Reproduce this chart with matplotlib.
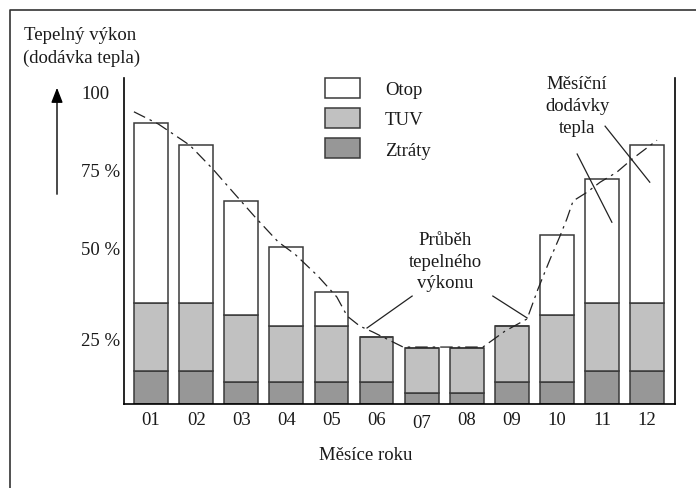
import matplotlib
matplotlib.use("Agg")
import matplotlib.pyplot as plt
from matplotlib.lines import Line2D
import numpy as np

# ---- data ----
months = ["01", "02", "03", "04", "05", "06", "07", "08", "09", "10", "11", "12"]
ztraty = [10.6, 10.6, 6.9, 6.9, 6.9, 6.9, 3.4, 3.4, 6.9, 6.9, 10.6, 10.6]
tuv = [21.6, 21.6, 21.6, 17.9, 17.9, 14.6, 14.5, 14.5, 18.0, 21.6, 21.6, 21.6]
otop = [57.6, 50.5, 36.3, 25.5, 11.1, 0.0, 0.0, 0.0, 0.0, 25.4, 39.7, 50.5]

# power curve (Průběh tepelného výkonu), x in month-index units, y in %
curve_x = [-0.38, 0.16, 0.86, 1.37, 1.82, 2.31, 2.82, 3.19, 3.70, 4.12, 4.35, 4.63,
           4.92, 5.59, 7.36, 7.85, 8.34, 8.58, 8.85, 9.07, 9.22, 9.36, 9.67, 9.96,
           10.33, 10.67, 11.22]
curve_y = [93.4, 89.5, 82.7, 75.1, 67.7, 59.7, 51.8, 47.9, 40.9, 34.2, 28.1, 24.9,
           23.0, 18.2, 18.2, 23.3, 27.2, 36.7, 46.3, 53.7, 59.1, 64.9, 67.7, 70.9,
           74.1, 78.3, 84.3]

ytick_vals = [100, 75, 50, 21]
ytick_labels = ["100", "75 %", "50 %", "25 %"]
legend_labels = ["Otop", "TUV", "Ztráty"]

FONT = "Liberation Serif"
FS = 13.5
TXT = "#1a1a1a"
plt.rcParams["font.family"] = [FONT, "DejaVu Serif"]

W, H = 696, 489
fig = plt.figure(figsize=(W / 100, H / 100), dpi=100)
ax = fig.add_axes([124 / W, (H - 405) / H, (675 - 124) / W, (405 - 79) / H])

x = np.arange(len(months))
edge = "#3a3a3a"
lw = 1.1
b1 = ax.bar(x, ztraty, width=0.75, color="#979797", edgecolor=edge, linewidth=lw, label=legend_labels[2])
b2 = ax.bar(x, tuv, width=0.75, bottom=ztraty, color="#c1c1c1", edgecolor=edge, linewidth=lw, label=legend_labels[1])
bot2 = np.array(ztraty) + np.array(tuv)
b3 = ax.bar(x, otop, width=0.75, bottom=bot2, color="white", edgecolor=edge, linewidth=lw, label=legend_labels[0])

ax.plot(curve_x, curve_y, color="#222222", linewidth=0.9, linestyle=(0, (10, 4, 2, 4)))

ax.set_xlim(-0.6, 11.62)
ax.set_ylim(0, 104.2)

for s in ["left", "right", "bottom"]:
    ax.spines[s].set_linewidth(1.2)
    ax.spines[s].set_color("black")
ax.spines["top"].set_visible(False)

ax.set_yticks(ytick_vals)
ax.set_yticklabels(ytick_labels, fontsize=FS, color=TXT, ha="left")
ax.tick_params(axis="y", length=0, pad=31)
ax.set_xticks([])

# x tick labels
for i, m in enumerate(months):
    dy = -2.2 if m == "07" else 0.0
    ax.annotate(m, xy=(x[i], 0), xycoords=("data", "axes fraction"),
                xytext=(0, -11.2 + dy), textcoords="offset points",
                ha="center", va="center", fontsize=FS, color=TXT)

fig.text(366 / W, 1 - 456 / H, "Měsíce roku", ha="center", va="center", fontsize=FS, color=TXT)

# y title
fig.text(24 / W, 1 - 35 / H, "Tepelný výkon", ha="left", va="center", fontsize=FS, color=TXT)
fig.text(23 / W, 1 - 58 / H, "(dodávka tepla)", ha="left", va="center", fontsize=FS, color=TXT)

# arrow
ax.annotate("", xy=(57, H - 86), xycoords="figure pixels", xytext=(57, H - 198),
            textcoords="figure pixels",
            arrowprops=dict(arrowstyle="-|>,head_length=0.9,head_width=0.35", color="black", lw=1.0))

# legend
leg = ax.legend(handles=[b3, b2, b1], labels=legend_labels, loc="upper left",
                bbox_to_anchor=(325 / W, 1 - 79 / H), bbox_transform=fig.transFigure,
                frameon=False, fontsize=FS, handlelength=1.85, handleheight=1.23,
                labelspacing=0.54, handletextpad=1.35, borderpad=0, borderaxespad=0)
for t in leg.get_texts():
    t.set_color(TXT)

# annotations
ax.text(6.52, 45.7, "Průběh\ntepelného\nvýkonu", ha="center", va="center",
        fontsize=FS, color=TXT, linespacing=1.38)
ax.plot([5.79, 4.79], [34.5, 24.3], color="#222222", lw=0.9)
ax.plot([7.58, 8.34], [34.5, 27.5], color="#222222", lw=0.9)

ax.text(9.45, 95.5, "Měsíční\ndodávky\ntepla", ha="center", va="center",
        fontsize=FS, color=TXT, linespacing=1.38)
ax.plot([10.07, 11.06], [88.8, 70.9], color="#222222", lw=0.9)
ax.plot([9.45, 10.22], [79.9, 58.1], color="#222222", lw=0.9)

# outer frame (left and top)
fig.add_artist(Line2D([10 / W, 10 / W, 1.0], [0.0, 1 - 11 / H, 1 - 11 / H],
                      transform=fig.transFigure, color="#333333", lw=1.2))

fig.savefig("out.png", dpi=100)
